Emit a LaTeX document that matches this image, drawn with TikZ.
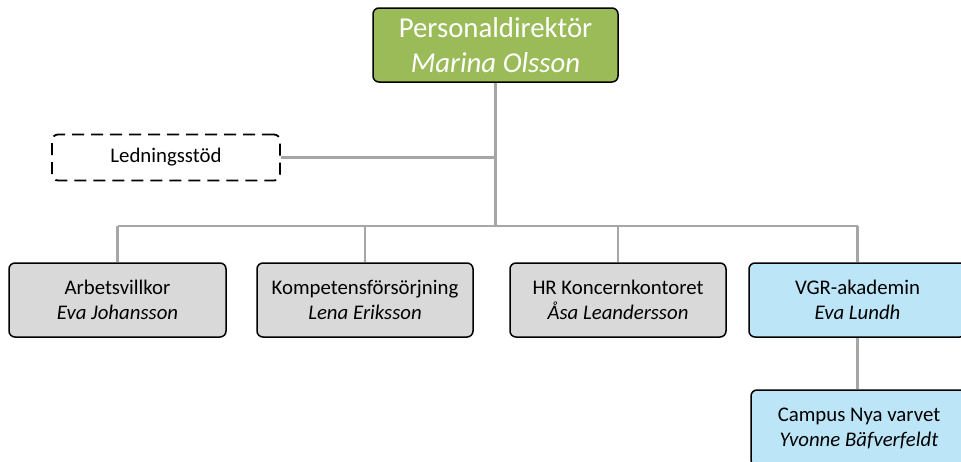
\documentclass[tikz,border=0pt]{standalone}
\usepackage{fontspec}
\setmainfont{Carlito}
\definecolor{topgreen}{HTML}{9BBB59}
\definecolor{boxgray}{HTML}{D9D9D9}
\definecolor{boxblue}{HTML}{BDE5F8}
\definecolor{linegray}{HTML}{A6A6A6}
\begin{document}
\begin{tikzpicture}[x=1pt,y=-1pt,
  box/.style={draw=black, line width=1.5pt, rounded corners=6pt, align=center,
    inner sep=0pt, minimum width=216pt, minimum height=74pt,
    font=\fontsize{20.8}{25}\selectfont},
  graybox/.style={box, fill=boxgray},
  bluebox/.style={box, fill=boxblue},
  conn/.style={draw=linegray, line width=2.5pt}]
\useasboundingbox (0,0) rectangle (961,461);
\clip (0,0) rectangle (961,461);
\node[box, fill=topgreen, text=white, minimum width=245pt, minimum height=74pt,
  font=\fontsize{28.8}{35}\selectfont] (top) at (495.5,45)
  {Personaldirektör\\\textit{Marina Olsson}};
\node[box, line width=1.8pt, dash pattern=on 12pt off 7pt, minimum width=228pt, minimum height=46pt] (led) at (166,157.5) {Ledningsstöd};
\node[graybox, minimum width=217pt] (arb) at (117.5,300) {Arbetsvillkor\\\textit{Eva Johansson}};
\node[graybox] (komp) at (365,300) {Kompetensförsörjning\\\textit{Lena Eriksson}};
\node[graybox] (hr) at (618,300) {HR Koncernkontoret\\\textit{Åsa Leandersson}};
\node[bluebox, minimum width=217pt] (vgr) at (857.5,300) {VGR-akademin\\\textit{Eva Lundh}};
\node[bluebox, minimum height=76pt] (camp) at (859,428) {Campus Nya varvet\\\textit{Yvonne Bäfverfeldt}};
\coordinate (bus) at (495.5,226);
\path[conn] (top.south) -- (top.south |- bus);
\path[conn] (led.east) -- (led.east -| top.south);
\path[conn] (arb.north |- bus) -- (vgr.north |- bus);
\path[conn] (arb.north) -- (arb.north |- bus);
\path[conn] (komp.north) -- (komp.north |- bus);
\path[conn] (hr.north) -- (hr.north |- bus);
\path[conn] (vgr.north) -- (vgr.north |- bus);
\path[conn] (vgr.south) -- (camp.north -| vgr.south);
\end{tikzpicture}
\end{document}
